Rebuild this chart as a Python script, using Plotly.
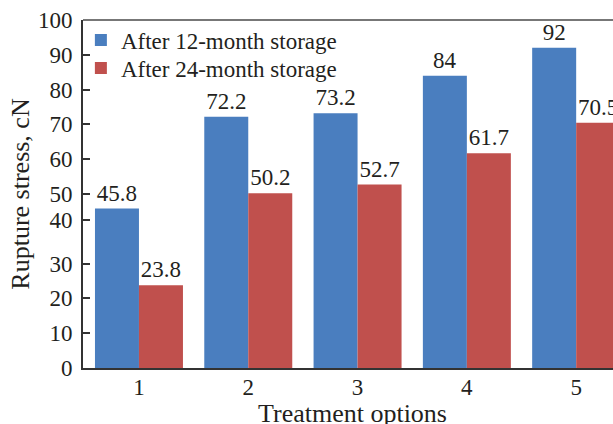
import plotly.graph_objects as go

categories = ["1", "2", "3", "4", "5"]
after_12 = [45.8, 72.2, 73.2, 84, 92]
after_24 = [23.8, 50.2, 52.7, 61.7, 70.5]
series_names = ["After 12-month storage", "After 24-month storage"]
y_tick_vals = [0, 10, 20, 30, 42.5, 50, 60, 70, 80, 90, 100]
y_tick_text = ["0", "10", "20", "30", "40", "50", "60", "70", "80", "90", "100"]
x_title = "Treatment options"
y_title = "Rupture stress, cN"

FONT = "Liberation Serif"
TXT = "#231f20"

fig = go.Figure()
fig.add_trace(go.Bar(x=categories, y=after_12, name=series_names[0], legend="legend",
                     marker=dict(color="#4a7ebf", line=dict(width=0)),
                     text=[f"{v:g}" for v in after_12], textposition="outside",
                     textfont=dict(family=FONT, size=23, color=TXT), cliponaxis=False))
fig.add_trace(go.Bar(x=categories, y=after_24, name=series_names[1], legend="legend2",
                     marker=dict(color="#c0504d", line=dict(width=0)),
                     text=[f"{v:g}" for v in after_24], textposition="outside",
                     textfont=dict(family=FONT, size=23, color=TXT), cliponaxis=False))

legend_style = dict(x=-0.004, xanchor="left", yanchor="middle",
                    font=dict(family=FONT, size=23, color=TXT),
                    bgcolor="rgba(0,0,0,0)", itemwidth=30)

fig.update_layout(
    width=613, height=424,
    margin=dict(l=83, r=0, t=20, b=56),
    paper_bgcolor="white", plot_bgcolor="white",
    barmode="group", bargap=0.195, bargroupgap=0,
    font=dict(family=FONT, size=22, color=TXT),
    showlegend=True,
    legend=dict(y=0.9425, **legend_style),
    legend2=dict(y=0.862, **legend_style),
    xaxis=dict(type="category", range=[-0.512, 4.337], showgrid=False,
               showline=True, linecolor="#333", linewidth=2, ticks="",
               automargin=False, ticklabelstandoff=-3,
               tickfont=dict(family=FONT, size=23, color=TXT)),
    yaxis=dict(range=[0, 100], showgrid=False, zeroline=False,
               showline=True, linecolor="#333", linewidth=2,
               ticks="inside", ticklen=7, tickwidth=1.5, tickcolor="#333", automargin=False,
               ticklabelstandoff=4,
               tickvals=y_tick_vals, ticktext=y_tick_text,
               tickfont=dict(family=FONT, size=23, color=TXT),
               title=dict(text=y_title, font=dict(family=FONT, size=26, color=TXT), standoff=1)),
    shapes=[dict(type="line", xref="paper", yref="paper", x0=0, x1=1, y0=1, y1=1,
                 line=dict(color="#777", width=2))],
    annotations=[dict(text=x_title, xref="paper", yref="paper", x=0.5, y=0,
                      xanchor="center", yanchor="middle", yshift=-45, xshift=4,
                      showarrow=False, font=dict(family=FONT, size=26, color=TXT))],
)

fig.write_html(
    "out.html",
    config={"displayModeBar": False},
    post_script=("document.documentElement.style.overflow='hidden';"
                 "document.body.style.overflow='hidden';"
                 "document.body.style.margin='0';"),
)
